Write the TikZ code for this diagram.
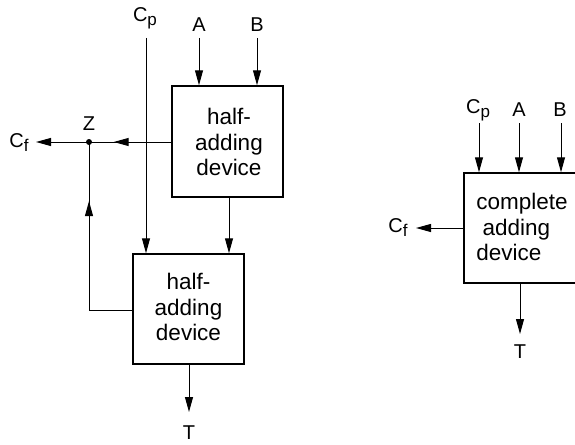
\documentclass[tikz,border=0pt]{standalone}
\usepackage{fontspec}
\setmainfont{Liberation Sans}
\usetikzlibrary{arrows.meta,decorations.markings}
\newcommand{\Csub}[1]{C\raisebox{-4pt}{\fontsize{17}{17}\selectfont #1}}
\begin{document}
\begin{tikzpicture}[x=1pt,y=-1pt,
  line/.style={line width=1pt,black},
  arr/.style={line, -{Triangle[length=15pt,width=8pt]}},
  midarr/.style={line, postaction={decorate}, decoration={markings, mark=at position #1 with {\arrow{Triangle[length=15pt,width=8pt]}}}},
  box/.style={draw, line width=1.5pt, minimum width=111pt, minimum height=111pt, inner sep=0pt},
  boxtext/.style={align=center, font=\fontsize{22.5}{25.5}\selectfont},
  lbl/.style={font=\fontsize{20}{20}\selectfont, inner sep=1pt}]
\useasboundingbox (0,0) rectangle (575,444);
% left diagram
\node[box] (h1) at (227.5,141.5) {};
\node[boxtext] (h1t) at (229,142) {half-\\adding\\device};
\node[box, minimum height=110pt] (h2) at (188.5,309) {};
\node[boxtext] (h2t) at (188.5,307) {half-\\adding\\device};
\node[lbl] (A) at (199,25) {A};
\node[lbl] (B) at (257,25) {B};
\node[lbl] (Cp) at (145,18) {\Csub{p}};
\node[lbl] (Z) at (89,124) {Z};
\node[lbl] (Cf) at (19,143) {\Csub{f}};
\node[lbl] (T) at (189,433) {T};
\coordinate (zdot) at (89,142);
\fill (zdot) circle (3pt);
\coordinate (Atop) at (199,38);
\coordinate (Btop) at (257,38);
\coordinate (Cptop) at (146,38);
\coordinate (Cfend) at (36,142);
\coordinate (Tend) at (189,412);
\draw[arr] (Atop) -- (Atop |- h1.north);
\draw[arr] (Btop) -- (Btop |- h1.north);
\draw[arr] (Cptop) -- (Cptop |- h2.north);
\draw[arr] (h1.south -| 229,0) -- (229,0 |- h2.north);
\draw[midarr=0.7] (h1.west |- zdot) -- (zdot);
\draw[arr] (zdot) -- (Cfend);
\draw[midarr=0.72] (h2.west |- 0,310) -- (89,310) -- (zdot);
\draw[arr] (h2.south -| Tend) -- (Tend);
% right diagram
\node[box, minimum width=114pt, minimum height=110pt] (fa) at (521,228) {};
\node[boxtext, align=left] (fat) at (522,227) {complete\\\ adding\\device};
\node[lbl] (Cp2) at (478,110) {\Csub{p}};
\node[lbl] (A2) at (519,110) {A};
\node[lbl] (B2) at (560,110) {B};
\node[lbl] (Cf2) at (398,228) {\Csub{f}};
\node[lbl] (T2) at (520,352) {T};
\coordinate (c2top) at (479,123);
\coordinate (a2top) at (519,123);
\coordinate (b2top) at (561,123);
\coordinate (cf2end) at (416,228);
\coordinate (t2end) at (520,334);
\draw[arr] (c2top) -- (c2top |- fa.north);
\draw[arr] (a2top) -- (a2top |- fa.north);
\draw[arr] (b2top) -- (b2top |- fa.north);
\draw[arr] (fa.west) -- (cf2end);
\draw[arr] (fa.south -| t2end) -- (t2end);
\end{tikzpicture}
\end{document}
